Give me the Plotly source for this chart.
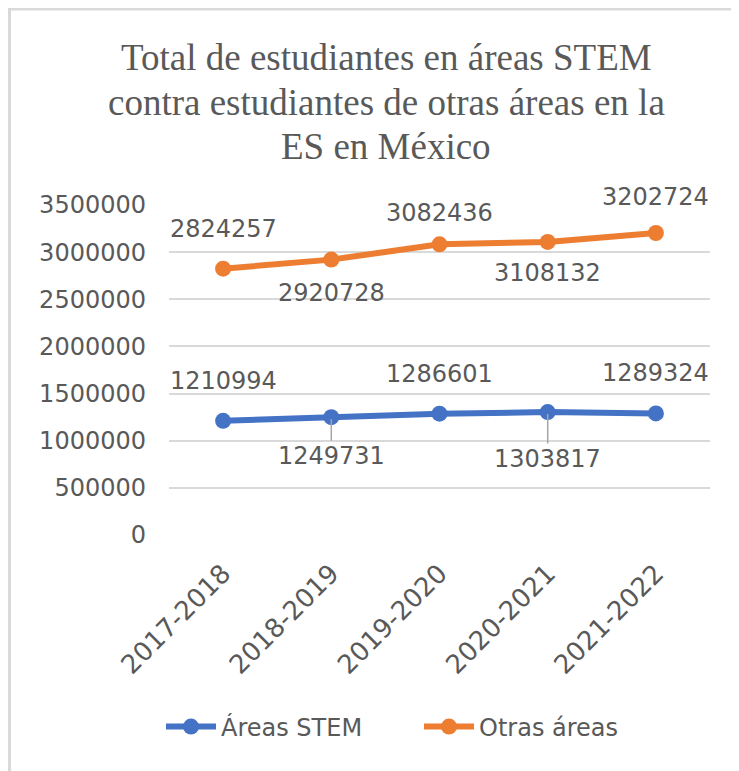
import plotly.graph_objects as go

categories = ["2017-2018", "2018-2019", "2019-2020", "2020-2021", "2021-2022"]
stem_values = [1210994, 1249731, 1286601, 1303817, 1289324]
otras_values = [2824257, 2920728, 3082436, 3108132, 3202724]
series_names = ["Áreas STEM", "Otras áreas"]
y_ticks = [0, 500000, 1000000, 1500000, 2000000, 2500000, 3000000, 3500000]
title_lines = ["Total de estudiantes en áreas STEM",
               "contra estudiantes de otras áreas en la",
               "ES en México"]

# label styling (pixel offsets of data labels, leader line flags)
stem_label_shift = [-40, 39, -40, 47, -40]
stem_leader = [False, True, False, True, False]
otras_label_shift = [-40, 33, -31, 31, -36]
otras_leader = [False, False, False, False, False]

BLUE = "#4472C4"
ORANGE = "#ED7D31"
GRAY = "#595959"
SANS = "DejaVu Sans"

OFF = 8  # page body margin
W, H = 739 - OFF, 771 - OFF
ML, MT = 169 - OFF, 205 - OFF
PW, PH = 541, 330
MR, MB = W - ML - PW, H - MT - PH


def px_x(x):
    return (x - OFF - ML) / PW


def px_y(y):
    return (MT + PH - (y - OFF)) / PH


fig = go.Figure()
for name, vals, col in [(series_names[0], stem_values, BLUE),
                        (series_names[1], otras_values, ORANGE)]:
    fig.add_trace(go.Scatter(
        x=categories, y=vals, name=name, mode="lines+markers",
        line=dict(color=col, width=6),
        marker=dict(color=col, size=16),
    ))

annotations = []
for vals, shifts, leaders in [(stem_values, stem_label_shift, stem_leader),
                              (otras_values, otras_label_shift, otras_leader)]:
    for c, v, s, ld in zip(categories, vals, shifts, leaders):
        annotations.append(dict(
            x=c, y=v, xref="x", yref="y", text=str(v),
            showarrow=True, ax=0, ay=s, arrowhead=0,
            arrowwidth=1.5, standoff=2,
            arrowcolor="#A6A6A6" if ld else "rgba(0,0,0,0)",
            font=dict(family=SANS, size=24, color=GRAY),
        ))

title_centers = [58, 102, 146]
for t, yc in zip(title_lines, title_centers):
    annotations.append(dict(
        x=px_x(386), y=px_y(yc), xref="paper", yref="paper",
        text=t, showarrow=False, xanchor="center", yanchor="middle",
        font=dict(family="Liberation Serif", size=37, color=GRAY),
    ))

shapes = [
    dict(type="line", xref="paper", yref="paper",
         x0=px_x(8), x1=px_x(760), y0=px_y(9), y1=px_y(9),
         line=dict(color="#D9D9D9", width=3)),
    dict(type="line", xref="paper", yref="paper",
         x0=px_x(9.5), x1=px_x(9.5), y0=px_y(8), y1=px_y(790),
         line=dict(color="#D9D9D9", width=3)),
]

fig.update_layout(
    width=W, height=H,
    margin=dict(l=ML, r=MR, t=MT, b=MB),
    paper_bgcolor="white", plot_bgcolor="white",
    showlegend=True,
    legend=dict(orientation="h", x=px_x(161), xanchor="left",
                y=px_y(727), yanchor="middle",
                font=dict(family=SANS, size=24, color=GRAY),
                itemwidth=50, entrywidth=193, entrywidthmode="pixels"),
    annotations=annotations,
    shapes=shapes,
    xaxis=dict(type="category", range=[-0.5, 4.5], tickangle=-45,
               showgrid=False, showline=False, zeroline=False, ticks="",
               tickfont=dict(family=SANS, size=26, color=GRAY),
               ticklabelstandoff=17),
    yaxis=dict(range=[0, 3500000], tickvals=y_ticks, tickformat="d",
               showgrid=True, gridcolor="#D9D9D9", gridwidth=2,
               zeroline=False, showline=False, ticks="",
               tickfont=dict(family=SANS, size=24, color=GRAY),
               ticklabelstandoff=22),
)

fig.write_html("out.html")
